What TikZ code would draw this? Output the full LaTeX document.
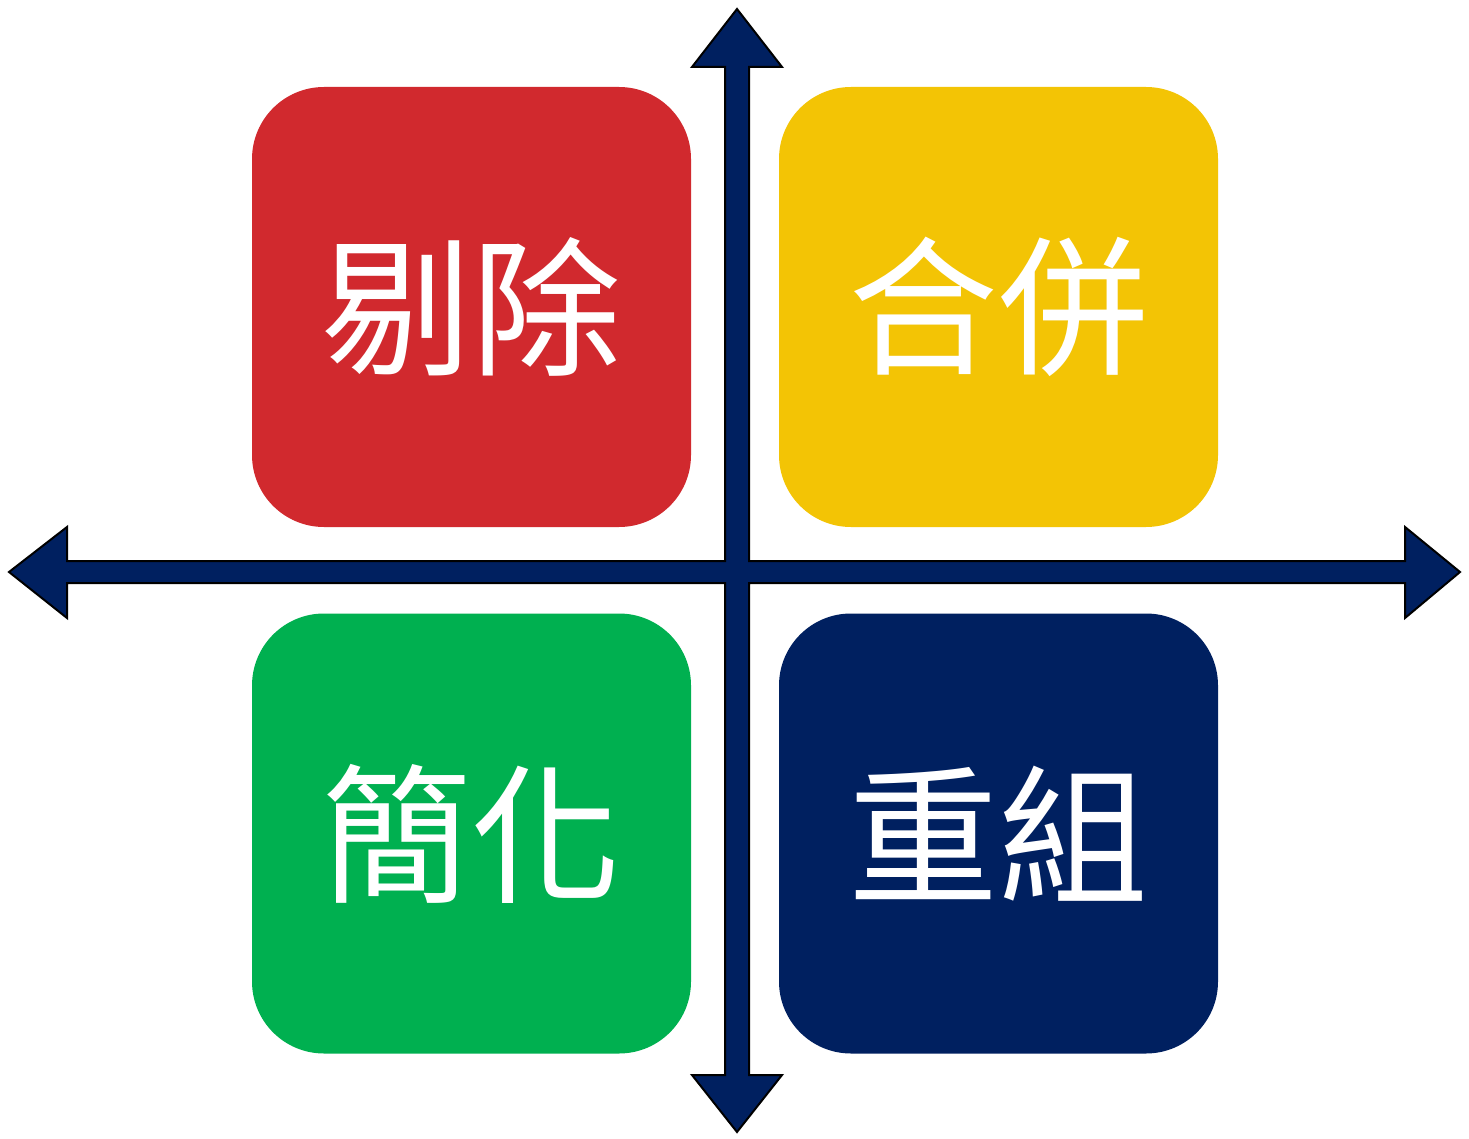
\documentclass[tikz,border=0pt]{standalone}
\usepackage{fontspec}
\newfontfamily\cjk{Noto Sans CJK TC}
\definecolor{qred}{RGB}{209,41,46}
\definecolor{qyellow}{RGB}{243,196,5}
\definecolor{qgreen}{RGB}{0,176,80}
\definecolor{qnavy}{RGB}{0,32,96}
\tikzset{
  quad/.style={rectangle, rounded corners=72pt, minimum width=439pt, minimum height=440pt, inner sep=0pt, text=white, font=\cjk\fontsize{150}{150}\selectfont},
  axis/.style={fill=qnavy, draw=black, line width=2pt, line join=miter}
}
\begin{document}
\begin{tikzpicture}[x=1pt,y=-1pt]
\useasboundingbox (0,0) rectangle (1469,1139);
\fill[white] (0,0) rectangle (1469,1139);
\node[quad, fill=qred] (elim) at (471.5,307) {剔除};
\node[quad, fill=qyellow] (comb) at (998.5,307) {合併};
\node[quad, fill=qgreen] (simp) at (471.5,833.5) {簡化};
\node[quad, fill=qnavy] (reor) at (998.5,833.5) {重組};
\draw[axis] (737,9) -- (782,67) -- (749,67) -- (749,561) -- (1405,561) -- (1405,527) -- (1460,572) -- (1405,618) -- (1405,583) -- (749,583) -- (749,1075) -- (782,1075) -- (737,1132) -- (692,1075) -- (725,1075) -- (725,583) -- (67,583) -- (67,618) -- (9,572) -- (67,527) -- (67,561) -- (725,561) -- (725,67) -- (692,67) -- cycle;
\end{tikzpicture}
\end{document}
